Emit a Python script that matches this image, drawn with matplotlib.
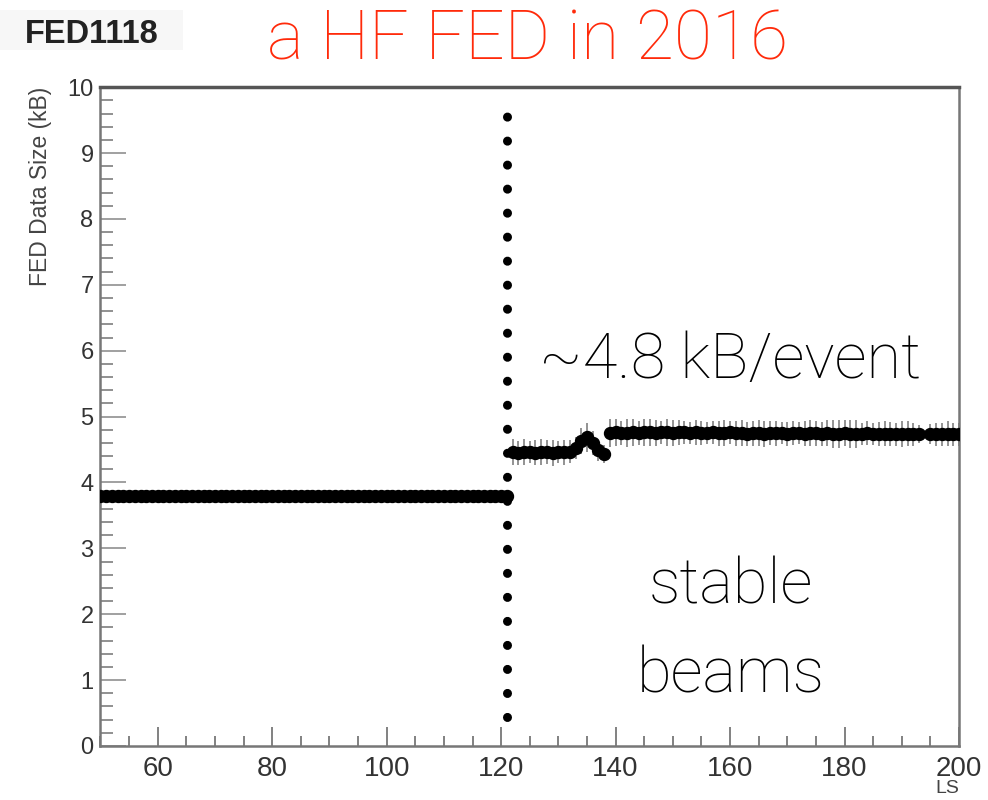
import numpy as np
import matplotlib.pyplot as plt
from matplotlib.ticker import MultipleLocator
from matplotlib.patches import Rectangle

plt.rcParams['font.family'] = ['Liberation Sans', 'DejaVu Sans']

# lumi sections
ls = np.arange(50, 201)

# FED 1118 event size (kB) per lumi section
size_before = [3.80, 3.80, 3.80, 3.80, 3.80, 3.80, 3.80, 3.80, 3.80, 3.80,
               3.80, 3.80, 3.80, 3.80, 3.80, 3.80, 3.80, 3.80, 3.80, 3.80,
               3.80, 3.80, 3.80, 3.80, 3.80, 3.80, 3.80, 3.80, 3.80, 3.80,
               3.80, 3.80, 3.80, 3.80, 3.80, 3.80, 3.80, 3.80, 3.80, 3.80,
               3.80, 3.80, 3.80, 3.80, 3.80, 3.80, 3.80, 3.80, 3.80, 3.80,
               3.80, 3.80, 3.80, 3.80, 3.80, 3.80, 3.80, 3.80, 3.80, 3.80,
               3.80, 3.80, 3.80, 3.80, 3.80, 3.80, 3.80, 3.80, 3.80, 3.80,
               3.80, 3.80]
size_after = [4.46, 4.45, 4.46, 4.46, 4.45, 4.46, 4.46, 4.45, 4.46, 4.46,
              4.47, 4.52, 4.63, 4.69, 4.60, 4.49, 4.43,
              4.75, 4.76, 4.75, 4.75, 4.76, 4.75, 4.76, 4.76, 4.75, 4.76,
              4.76, 4.75, 4.76, 4.76, 4.75, 4.76, 4.75, 4.75, 4.76, 4.75,
              4.75, 4.76, 4.75, 4.75, 4.74, 4.75, 4.75, 4.74, 4.75, 4.75,
              4.75, 4.74, 4.75, 4.75, 4.74, 4.75, 4.75, 4.74, 4.75, 4.74,
              4.74, 4.75, 4.74, 4.74, 4.74, 4.75, 4.74, 4.74, 4.74, 4.74,
              4.73, 4.74, 4.74, 4.73, 4.74, np.nan, 4.74, 4.73, 4.73, 4.74,
              4.73, 4.73]
err_before = [0.01] * 72
err_after = [0.20, 0.18, 0.20, 0.17, 0.19, 0.20, 0.18, 0.20, 0.17, 0.19,
             0.18, 0.17, 0.20, 0.22, 0.18, 0.16, 0.14,
             0.21, 0.20, 0.18, 0.21, 0.20, 0.18, 0.20, 0.21, 0.20, 0.18,
             0.21, 0.20, 0.19, 0.18, 0.17, 0.19, 0.18, 0.17, 0.18, 0.19,
             0.20, 0.18, 0.19, 0.20, 0.18, 0.19, 0.20, 0.20, 0.18, 0.19,
             0.17, 0.18, 0.18, 0.17, 0.19, 0.20, 0.19, 0.18, 0.20, 0.21,
             0.21, 0.20, 0.21, 0.21, 0.17, 0.18, 0.17, 0.18, 0.19, 0.18,
             0.17, 0.20, 0.19, 0.17, 0.14, 0.0, 0.15, 0.18, 0.17, 0.19,
             0.18, 0.17]
size = np.array(size_before + size_after)
err = np.array(err_before + err_after)

stable_beams_ls = 121
big_font = ['Roboto', 'DejaVu Sans']

fig = plt.figure(figsize=(9.88, 8.0), dpi=100)
ax = fig.add_axes([0.1017, 0.0675, 0.8690, 0.8235])

ax.errorbar(ls, size, yerr=err, fmt='none', ecolor='#8a8a8a', elinewidth=1.3,
            zorder=2)
ax.plot(ls, size, 'o', color='black', markersize=8.6, zorder=3)

# start of stable beams, drawn as a row of round dots
ax.plot([stable_beams_ls, stable_beams_ls], [0.445, 9.62], color='black',
        lw=6.5, dashes=(0.01, 2.65), dash_capstyle='round', zorder=4)

ax.set_xlim(50, 200)
ax.set_ylim(0, 10)
ax.xaxis.set_major_locator(MultipleLocator(20))
ax.xaxis.set_minor_locator(MultipleLocator(5))
ax.yaxis.set_major_locator(MultipleLocator(1))
ax.yaxis.set_minor_locator(MultipleLocator(0.2))
ax.tick_params(axis='x', which='major', direction='in', length=14, width=1.3,
               color='#777777', labelsize=20, labelcolor='#333333', pad=7)
ax.tick_params(axis='x', which='minor', direction='in', length=7, width=1.3,
               color='#777777')
ax.tick_params(axis='y', which='major', direction='in', length=19, width=1.3,
               color='#999999', labelsize=17, labelcolor='#333333', pad=5)
ax.tick_params(axis='y', which='minor', direction='in', length=9, width=1.3,
               color='#888888')
for side in ['left', 'bottom', 'right']:
    ax.spines[side].set_color('#777777')
    ax.spines[side].set_linewidth(1.8)
ax.spines['top'].set_color('#555555')
ax.spines['top'].set_linewidth(2.5)

ax.set_ylabel('FED Data Size (kB)', fontsize=16.5, color='#444444')
ax.yaxis.set_label_coords(-0.057, 1.0)
ax.yaxis.label.set_horizontalalignment('right')
ax.set_xlabel('LS', fontsize=14, color='#444444')
ax.xaxis.set_label_coords(1.0, -0.052)
ax.xaxis.label.set_horizontalalignment('right')

fig.patches.append(Rectangle((0.0, 0.937), 0.185, 0.05, transform=fig.transFigure,
                             facecolor='#f7f7f7', edgecolor='none', zorder=0))
fig.text(0.025, 0.946, 'FED1118', fontsize=23.5, fontweight='bold',
         color='#222222')
fig.text(0.5335, 0.926, 'a HF FED in 2016', fontsize=50, color='#ff2a0a',
         ha='center', family=big_font, fontweight='light')
fig.text(0.7385, 0.527, '~4.8 kB/event', fontsize=45.5, color='black',
         ha='center', family=big_font, fontweight='light')
fig.text(0.740, 0.134, 'stable\nbeams', fontsize=45.5, color='black',
         ha='center', linespacing=1.6, family=big_font, fontweight='light')

fig.savefig('out.png', dpi=100)
